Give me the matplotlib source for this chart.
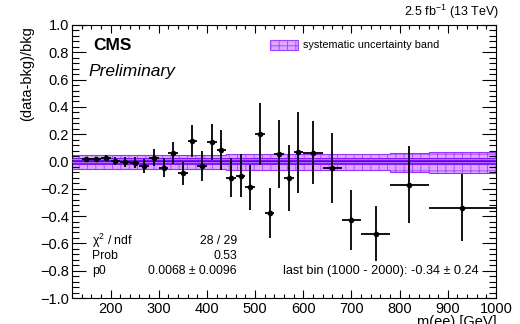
import numpy as np
import matplotlib
matplotlib.use('Agg')
import matplotlib.pyplot as plt
from matplotlib.patches import Rectangle
from matplotlib.ticker import MultipleLocator

plt.rcParams['font.family'] = ['Liberation Sans', 'DejaVu Sans']
plt.rcParams['mathtext.fontset'] = 'custom'
plt.rcParams['mathtext.rm'] = 'Liberation Sans'
plt.rcParams['hatch.linewidth'] = 0.6

# bin edges in m(ee) [GeV]
edges = np.array([140, 160, 180, 200, 220, 240, 260, 280, 300, 320, 340, 360,
                  380, 400, 420, 440, 460, 480, 500, 520, 540, 560, 580, 600,
                  640, 680, 720, 780, 860, 1000])
ratio = np.array([0.016, 0.018, 0.025, 0.004, -0.002, -0.008, -0.033, 0.028,
                  -0.045, 0.062, -0.086, 0.152, -0.033, 0.141, 0.082, -0.119,
                  -0.103, -0.187, 0.199, -0.375, 0.055, -0.119, 0.066, 0.064,
                  -0.048, -0.429, -0.529, -0.170, -0.340])
ratio_err = np.array([0.015, 0.018, 0.022, 0.030, 0.035, 0.040, 0.052, 0.062,
                      0.067, 0.078, 0.083, 0.116, 0.113, 0.132, 0.146, 0.143,
                      0.159, 0.165, 0.227, 0.183, 0.250, 0.243, 0.300, 0.232,
                      0.258, 0.220, 0.200, 0.283, 0.245])

# systematic band, per bin
sys_edges = np.array([120, 440, 780, 860, 1000])
sys_up = np.array([0.048, 0.053, 0.062, 0.068])
sys_dn = np.array([-0.058, -0.063, -0.074, -0.082])

fit_p0 = 0.0068
fit_err = 0.0096

centers = 0.5 * (edges[:-1] + edges[1:])
half_w = 0.5 * np.diff(edges)

fig = plt.figure(figsize=(5.2, 3.24), dpi=100)
ax = fig.add_axes([72 / 520, 1 - 298 / 324, 424 / 520, 273 / 324])

band_light = '#dca8ff'
band_hatch = '#a040ff'
band_dark = '#8414ff'
ax.stairs(sys_up, sys_edges, baseline=sys_dn, fill=True, facecolor=band_light,
          edgecolor=band_hatch, hatch='++', linewidth=0, zorder=1)
ax.stairs(sys_up, sys_edges, baseline=None, color='#9b30ff', lw=0.8, zorder=2)
ax.stairs(sys_dn, sys_edges, baseline=None, color='#9b30ff', lw=0.8, zorder=2)
ax.axhspan(-0.026, 0.022, color=band_dark, lw=0, zorder=2)
ax.axhline(fit_p0, color='#5a00c0', lw=1.0, zorder=3)
ax.axhline(fit_p0 + fit_err, color='#c79bff', lw=0.5, zorder=3)
ax.axhline(fit_p0 - fit_err, color='#c79bff', lw=0.5, zorder=3)

ax.errorbar(centers, ratio, xerr=half_w, yerr=ratio_err, fmt='o', color='black',
            ms=3, elinewidth=1.3, capsize=0, zorder=5)

ax.set_xlim(120, 1000)
ax.set_ylim(-1.0, 1.0)
ax.xaxis.set_major_locator(MultipleLocator(100))
ax.xaxis.set_minor_locator(MultipleLocator(20))
ax.yaxis.set_major_locator(MultipleLocator(0.2))
ax.yaxis.set_minor_locator(MultipleLocator(0.04))
ax.yaxis.set_major_formatter(matplotlib.ticker.FuncFormatter(
    lambda v, p: f'{v:.1f}'.replace('-', '\u2212') if abs(v) > 1e-9 else '0.0'))
ax.tick_params(axis='both', which='both', direction='in', top=True, right=True,
               labelsize=10.5, width=0.8)
ax.tick_params(axis='y', which='major', length=10, pad=2)
ax.tick_params(axis='y', which='minor', length=5)
ax.tick_params(axis='x', which='major', length=6, pad=3)
ax.tick_params(axis='x', which='minor', length=3)
for s in ax.spines.values():
    s.set_linewidth(0.8)

fig.text(27 / 520, 1 - 74 / 324, '(data-bkg)/bkg', rotation=90, ha='center',
         va='center', fontsize=10.5)
fig.text(497 / 520, 1 - 322 / 324, 'm(ee) [GeV]', ha='right', va='center',
         fontsize=10.5)
fig.text(499 / 520, 1 - 12 / 324, r'2.5 fb$^{-1}$ (13 TeV)', ha='right',
         va='center', fontsize=9)

ax.text(0.05, 0.925, 'CMS', transform=ax.transAxes, fontsize=12.5,
        fontweight='bold', ha='left', va='center')
ax.text(0.038, 0.83, 'Preliminary', transform=ax.transAxes, fontsize=12.5,
        style='italic', ha='left', va='center')

# legend entry
leg = Rectangle((270 / 520, 1 - 50 / 324), 28 / 520, 10 / 324,
                transform=fig.transFigure, facecolor=band_light,
                edgecolor=band_hatch, hatch='++', lw=0.8)
fig.add_artist(leg)
fig.text(303 / 520, 1 - 45 / 324, 'systematic uncertainty band', ha='left',
         va='center', fontsize=7.8)

# fit box
stats = [('\u03c7$^2$ / ndf', '28 / 29'), ('Prob', '0.53'),
         ('p0', '0.0068 \u00b1 0.0096')]
for i, (k, v) in enumerate(stats):
    y = 1 - (241 + 15 * i) / 324
    fig.text(92 / 520, y, k, ha='left', va='center', fontsize=8.8)
    fig.text(237 / 520, y, v, ha='right', va='center', fontsize=8.8)

fig.text(479 / 520, 1 - 271 / 324, 'last bin (1000 - 2000): -0.34 \u00b1 0.24',
         ha='right', va='center', fontsize=9.2)

fig.savefig('out.png', dpi=100)
